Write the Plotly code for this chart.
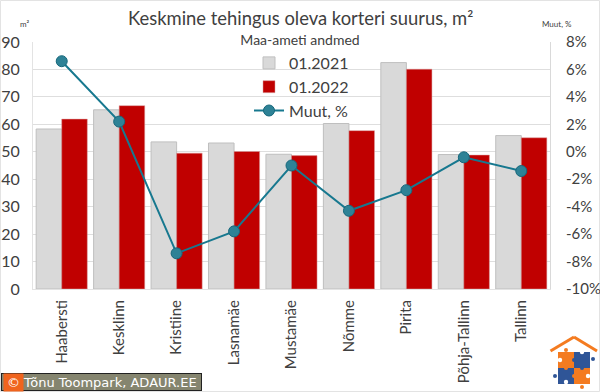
import plotly.graph_objects as go

categories = ["Haabersti", "Kesklinn", "Kristiine", "Lasnamäe", "Mustamäe", "Nõmme", "Pirita", "Põhja-Tallinn", "Tallinn"]
y2021 = [58.3, 65.3, 53.6, 53.2, 49.1, 60.3, 82.5, 49.0, 55.9]
y2022 = [61.9, 66.8, 49.5, 50.1, 48.6, 57.7, 80.1, 48.8, 55.1]
change = [6.6, 2.2, -7.4, -5.8, -1.0, -4.3, -2.8, -0.4, -1.4]
left_ticks = [0, 10, 20, 30, 40, 50, 60, 70, 80, 90]
right_ticks = [-10, -8, -6, -4, -2, 0, 2, 4, 6, 8]
right_labels = ["-10%", "-8%", "-6%", "-4%", "-2%", "0%", "2%", "4%", "6%", "8%"]

W, H = 600, 392
def px(x): return x / W
def py(y): return 1 - y / H

FONT = "Lato, Open Sans, sans-serif"
TXT = "#404040"

fig = go.Figure()
fig.add_bar(x=categories, y=y2021, name="01.2021", marker=dict(color="#D9D9D9", line=dict(color="#BFBFBF", width=1)))
fig.add_bar(x=categories, y=y2022, name="01.2022", marker=dict(color="#C00000", line=dict(color="#D9A0A0", width=0.5)))
fig.add_scatter(x=categories, y=change, name="Muut, %", yaxis="y2", mode="lines+markers",
                line=dict(color="#17788F", width=2),
                marker=dict(size=11, color="#2E8296", line=dict(color="#17687C", width=1)))

shapes = [
    dict(type="rect", xref="paper", yref="paper", x0=px(0.5), x1=px(599.5), y0=py(0.5), y1=py(391.5),
         line=dict(color="#E3E3E3", width=1), layer="below"),
]
def rect(x0, y0, x1, y1, col):
    shapes.append(dict(type="rect", xref="paper", yref="paper", x0=px(x0), x1=px(x1), y0=py(y0), y1=py(y1),
                       fillcolor=col, line=dict(width=0)))
def line(x0, y0, x1, y1, col, w):
    shapes.append(dict(type="line", xref="paper", yref="paper", x0=px(x0), x1=px(x1), y0=py(y0), y1=py(y1),
                       line=dict(color=col, width=w)))
def dot(cx, cy, r, col):
    shapes.append(dict(type="circle", xref="paper", yref="paper", x0=px(cx-r), x1=px(cx+r), y0=py(cy-r), y1=py(cy+r),
                       fillcolor=col, line=dict(width=0)))
ORG, BLU = "#F47B20", "#2F5597"
line(550.5, 351, 574, 337, ORG, 3)
line(574, 337, 597, 351, ORG, 3)
rect(558, 352, 574, 368, ORG)
rect(574, 352, 590, 368, BLU)
rect(558, 368, 574, 384, BLU)
rect(574, 368, 590, 384, ORG)
dot(566, 350, 2, ORG); dot(593, 359, 2, BLU); dot(555, 376, 2, BLU); dot(582, 387, 2, ORG)
dot(582, 352, 2.2, "white"); dot(560, 360, 2.2, "white"); dot(588, 376, 2.2, "white"); dot(566, 382, 2.2, "white")
dot(574, 360, 2, BLU); dot(566, 368, 2, ORG); dot(582, 368, 2, BLU); dot(574, 376, 2, ORG)

annotations = [
    dict(text="Maa-ameti andmed", x=px(300), y=py(39.5), showarrow=False, bgcolor="white", width=348, height=13,
         align="center", font=dict(size=14, color=TXT, family=FONT), xanchor="center", yanchor="middle"),
    dict(text="Keskmine tehingus oleva korteri suurus, m²", x=px(300), y=py(18), showarrow=False,
         font=dict(size=18.4, color=TXT, family=FONT), xanchor="center", yanchor="middle"),
    dict(text="m²", x=px(18), y=py(17), showarrow=False, font=dict(size=8, color=TXT, family=FONT)),
    dict(text="Muut, %", x=px(574), y=py(17), showarrow=False, font=dict(size=8, color=TXT, family=FONT)),
    dict(text=" ", x=px(1), y=py(382.3), showarrow=False, xanchor="left", yanchor="middle",
         width=199, height=16, bgcolor="#85856F", bordercolor="#222222", borderwidth=1, borderpad=0,
         font=dict(size=12, color="white", family="DejaVu Sans")),
    dict(text="©", x=px(2.5), y=py(382.3), showarrow=False, xanchor="left", yanchor="middle",
         width=17, height=15, bgcolor="#F0641E", font=dict(size=13, color="white", family="DejaVu Sans")),
    dict(text="Tõnu Toompark, ADAUR.EE", x=px(21), y=py(382.3), showarrow=False, xanchor="left", yanchor="middle",
         font=dict(size=13, color="white", family="DejaVu Sans")),
]
for a in annotations:
    a.update(xref="paper", yref="paper")

fig.update_layout(
    width=W, height=H, autosize=False,
    margin=dict(l=0, r=0, t=0, b=0, pad=0, autoexpand=False),
    paper_bgcolor="white", plot_bgcolor="white",
    barmode="group", bargap=0.11, bargroupgap=0,
    font=dict(family=FONT, color=TXT),
    xaxis=dict(domain=[px(33), px(550)], range=[-0.5, 8.5], tickangle=-90, tickfont=dict(size=15, color=TXT),
               showgrid=False, showline=True, linecolor="#E3E3E3", ticks="", anchor="y", automargin=False,
               ticklabelstandoff=4),
    yaxis=dict(range=[0, 90], tickvals=left_ticks, tickfont=dict(size=16, color=TXT), domain=[py(289), py(42)],
               gridcolor="#DEDEDE", showline=True, linecolor="#E3E3E3", zeroline=False, ticks="", automargin=False,
               ticklabelstandoff=9),
    yaxis2=dict(range=[-10, 8], tickvals=right_ticks, ticktext=right_labels, overlaying="y", side="right",
                tickfont=dict(size=15, color=TXT), showgrid=False, showline=True, linecolor="#D9D9D9", zeroline=False,
                ticks="", automargin=False, ticklabelstandoff=12),
    legend=dict(x=px(249), y=py(46), xanchor="left", yanchor="top", bgcolor="rgba(0,0,0,0)",
                font=dict(size=16, color=TXT, family=FONT), itemwidth=30, tracegroupgap=0),
    shapes=shapes, annotations=annotations,
)
fig.write_html("out.html", config={"displayModeBar": False},
               post_script="document.body.style.margin='0';document.documentElement.style.overflow='hidden';document.body.style.overflow='hidden';")
